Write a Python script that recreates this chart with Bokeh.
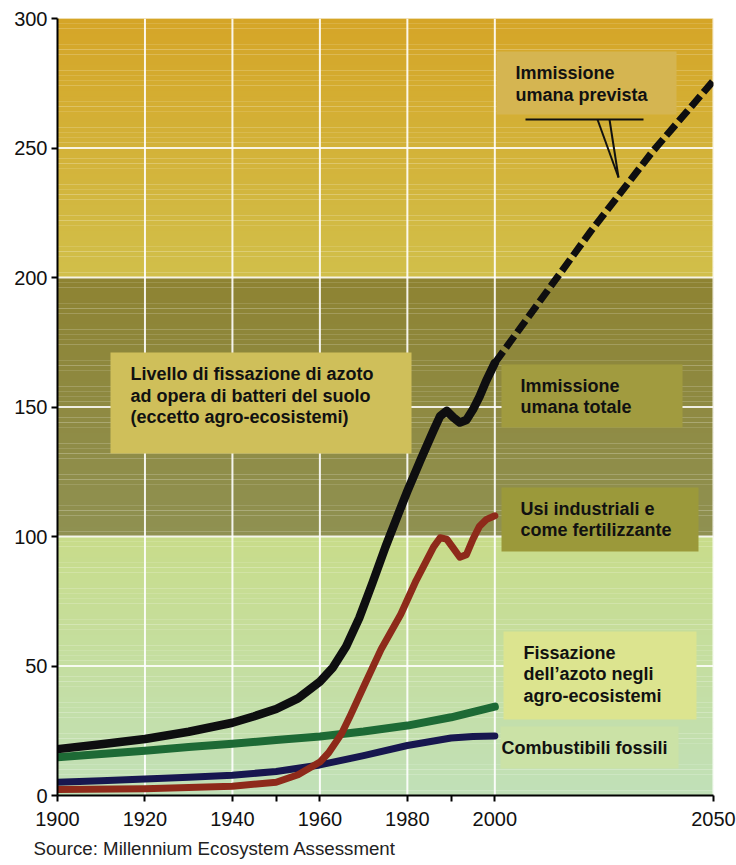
from bokeh.plotting import figure
from bokeh.models import FixedTicker, Title
from bokeh.core.properties import value
from bokeh.embed import file_html
from bokeh.resources import INLINE

# ---- series (Tg N / anno) ----
years_total = [1900, 1910, 1920, 1930, 1940, 1945, 1950, 1955, 1960, 1963, 1966, 1969,
               1972, 1975, 1978, 1980, 1983, 1986, 1987.5, 1989, 1990.5, 1992, 1993.5,
               1995, 1996.5, 1998, 2000]
vals_total = [17.9, 19.8, 21.8, 24.6, 28.1, 30.6, 33.4, 37.5, 44, 49.5, 57.5, 68.5,
              82, 96, 109, 117.5, 129.5, 141, 146.5, 148.5, 146, 144, 145,
              149, 154, 160, 167]

years_proj = [2000, 2022, 2036, 2050]
vals_proj = [167, 218, 248.5, 276]

years_ind = [1900, 1920, 1940, 1950, 1955, 1960, 1962, 1965, 1967, 1970, 1974, 1978.5,
             1982, 1986, 1987.5, 1989, 1990.5, 1992, 1993.5, 1995, 1996.5, 1998, 2000]
vals_ind = [2.3, 2.6, 3.6, 5.1, 8, 12.9, 16.5, 24, 31, 42, 56.5, 70,
            83, 96, 99.5, 99, 95.5, 92, 93, 99, 104, 106.5, 108]

years_agro = [1900, 1910, 1920, 1930, 1940, 1950, 1960, 1970, 1980, 1990, 2000]
vals_agro = [14.8, 16.0, 17.3, 18.7, 20.0, 21.4, 22.8, 24.7, 27.0, 30.2, 34.3]

years_fossil = [1900, 1910, 1920, 1930, 1940, 1950, 1960, 1970, 1980, 1990, 1995, 2000]
vals_fossil = [5.1, 5.7, 6.4, 7.0, 7.8, 9.3, 11.8, 15.4, 19.3, 22.2, 22.8, 23.0]

x_ticks = [1900, 1920, 1940, 1960, 1980, 2000, 2050]
x_minor = [1950, 1990]
y_ticks = [0, 50, 100, 150, 200, 250, 300]
v_grid = [1920, 1940, 1960, 1980, 2000, 2050]
h_grid = [50, 100, 150, 200, 250]

source_text = "Source: Millennium Ecosystem Assessment"

# ---- frame geometry (pixels) ----
W, H = 736, 865
FL, FR, FT, FB = 57, 713, 18, 795
XMIN, XMAX, YMIN, YMAX = 1900, 2050, 0, 300


def dx(px):
    return XMIN + (px - FL) * (XMAX - XMIN) / (FR - FL)


def dy(py):
    return YMIN + (FB - py) * (YMAX - YMIN) / (FB - FT)


p = figure(width=W, height=H, x_range=(XMIN, XMAX), y_range=(YMIN, YMAX),
           output_backend="svg", toolbar_location=None,
           min_border_left=FL, min_border_right=W - FR,
           min_border_top=FT, min_border_bottom=H - FB)
p.outline_line_color = None
p.background_fill_color = "white"
p.border_fill_color = "white"
p.xgrid.visible = False
p.ygrid.visible = False


# ---- gradient bands ----
def hex2rgb(h):
    h = h.lstrip("#")
    return tuple(int(h[i:i + 2], 16) for i in (0, 2, 4))


def mix(c0, c1, t):
    a, b = hex2rgb(c0), hex2rgb(c1)
    return "#%02x%02x%02x" % tuple(round(a[i] + (b[i] - a[i]) * t) for i in range(3))


bands = [  # (bottom, top, colour at bottom, colour at top)
    (0, 100, "#c1e0b8", "#c8dc8a"),
    (100, 200, "#8f9152", "#8e8332"),
    (200, 300, "#d1bf4a", "#d5a527"),
]
NSTRIP = 50
bot, top, cols = [], [], []
for b0, b1, c0, c1 in bands:
    step = (b1 - b0) / NSTRIP
    for i in range(NSTRIP):
        bot.append(b0 + i * step)
        top.append(b0 + (i + 1) * step + 0.05)
        cols.append(mix(c0, c1, (i + 0.5) / NSTRIP))
p.quad(left=XMIN, right=XMAX, bottom=bot, top=top, fill_color=cols, line_color=None)

# ---- grid ----
p.segment(x0=v_grid, x1=v_grid, y0=YMIN, y1=YMAX, line_color="white", line_width=2, line_alpha=0.9)
p.segment(x0=XMIN, x1=XMAX, y0=h_grid, y1=h_grid, line_color="white", line_width=2, line_alpha=0.85)

# ---- series lines ----
p.line(years_agro, vals_agro, line_color="#1d6a35", line_width=8, line_cap="round", line_join="round")
p.line(years_fossil, vals_fossil, line_color="#17174f", line_width=7, line_cap="round", line_join="round")
p.line(years_ind, vals_ind, line_color="#8e2a1a", line_width=7, line_cap="round", line_join="round")
p.line(years_total, vals_total, line_color="#0e0e10", line_width=8.5, line_cap="round", line_join="round")
p.line(years_proj, vals_proj, line_color="#0e0e10", line_width=7, line_dash="14 5")

# ---- label boxes ----
boxes = [  # left, right, top, bottom (px), fill
    (496, 676, 51, 114, "#d5b551"),
    (110, 411, 352, 453, "#cfbf5a"),
    (501, 682, 364, 427, "#a19b3f"),
    (501, 698, 487, 551, "#9b993a"),
    (503, 696, 631, 719, "#dce48f"),
    (500, 678, 726, 768, "#cbe2a6"),
]
p.quad(left=[dx(b[0]) for b in boxes], right=[dx(b[1]) for b in boxes],
       top=[dy(b[2]) for b in boxes], bottom=[dy(b[3]) for b in boxes],
       fill_color=[b[4] for b in boxes], line_color=None)

texts = [  # x px, y px (line centre), text
    (515, 72, "Immissione"),
    (515, 94, "umana prevista"),
    (130, 373, "Livello di fissazione di azoto"),
    (130, 395, "ad opera di batteri del suolo"),
    (130, 416, "(eccetto agro-ecosistemi)"),
    (520, 385, "Immissione"),
    (520, 406, "umana totale"),
    (520, 508, "Usi industriali e"),
    (520, 529, "come fertilizzante"),
    (523, 652, "Fissazione"),
    (523, 673, "dell\u2019azoto negli"),
    (523, 695, "agro-ecosistemi"),
    (501, 747, "Combustibili fossili"),
]
p.text(x=[dx(t[0]) for t in texts], y=[dy(t[1]) for t in texts], text=[t[2] for t in texts],
       text_font=value("Liberation Sans"), text_font_style="bold", text_font_size="18px",
       text_color="#111111", text_align="left", text_baseline="middle")

# callout pointer for the projection
p.segment(x0=[dx(525), dx(597), dx(609)], y0=[dy(119)] * 3,
          x1=[dx(643), dx(618), dx(618)], y1=[dy(119), dy(177), dy(177)],
          line_color="#111111", line_width=2)

# ---- axes ----
for ax in (p.xaxis[0], p.yaxis[0]):
    ax.axis_line_width = 2
    ax.axis_line_color = "black"
    ax.major_tick_line_width = 2
    ax.major_tick_line_color = "black"
    ax.major_tick_in = 0
    ax.major_tick_out = 6
    ax.minor_tick_line_width = 2
    ax.minor_tick_line_color = "black"
    ax.minor_tick_in = 0
    ax.minor_tick_out = 6
    ax.major_label_text_font = "Liberation Sans"
    ax.major_label_text_font_size = "20px"
    ax.major_label_text_color = "#111111"

p.xaxis[0].ticker = FixedTicker(ticks=x_ticks, minor_ticks=x_minor)
p.yaxis[0].ticker = FixedTicker(ticks=y_ticks, minor_ticks=[])
p.xaxis[0].major_label_standoff = 10
p.yaxis[0].major_label_standoff = 4

# source note under the axis
p.add_layout(Title(text=source_text, align="left", offset=33 - FL, standoff=14,
                   text_font="Liberation Sans", text_font_size="18.7px",
                   text_font_style="normal", text_color="#222222"), "below")

open("out.html", "w").write(file_html(p, INLINE))
